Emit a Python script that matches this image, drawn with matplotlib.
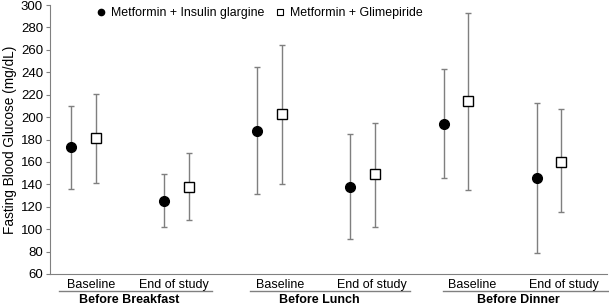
import matplotlib
matplotlib.use("Agg")
import matplotlib.pyplot as plt
from matplotlib.lines import Line2D

plt.rcParams["font.family"] = ["Liberation Sans", "DejaVu Sans"]

categorias = ["Baseline", "End of study"] * 3
grupos = ["Before Breakfast", "Before Lunch", "Before Dinner"]

insulina = [173, 125, 188, 138, 194, 146]
insulina_sup = [210, 149, 245, 185, 243, 213]
insulina_inf = [136, 102, 131, 91, 146, 79]

glimepirida = [181, 138, 203, 149, 214, 160]
glimepirida_sup = [221, 168, 264, 195, 293, 207]
glimepirida_inf = [141, 108, 140, 102, 135, 115]


def erros(media, sup, inf):
    return [[m - i for m, i in zip(media, inf)], [s - m for m, s in zip(media, sup)]]


fig = plt.figure(figsize=(6.09, 3.05), dpi=100)
ax = fig.add_axes([50 / 609, 31 / 305, 557 / 609, 269 / 305])

x = list(range(len(categorias)))
x1 = [v - 0.135 for v in x]
x2 = [v + 0.13 for v in x]

ax.errorbar(x1, insulina, yerr=erros(insulina, insulina_sup, insulina_inf),
            fmt="o", color="black", ms=7, ecolor="#7f7f7f", elinewidth=1,
            capsize=2.5, capthick=1, zorder=3)
ax.errorbar(x2, glimepirida, yerr=erros(glimepirida, glimepirida_sup, glimepirida_inf),
            fmt="s", mfc="white", mec="black", mew=1, ms=7, ecolor="#7f7f7f",
            elinewidth=1, capsize=2.5, capthick=1, zorder=3)

ax.set_xlim(-0.36, 5.62)
ax.set_ylim(60, 300)
ax.set_yticks(range(60, 301, 20))
ax.set_xticks([])
ax.tick_params(axis="y", labelsize=9.5, length=3, color="#808080", pad=2)
ax.set_ylabel("Fasting Blood Glucose (mg/dL)", fontsize=9.8, labelpad=3)

for lado in ["top", "right"]:
    ax.spines[lado].set_visible(False)
ax.spines["left"].set_color("#808080")
ax.spines["bottom"].set_color("#808080")

# rotulos das categorias e dos grupos
pos_cat = [0.08, 0.97, 2.11, 3.10, 4.17, 5.16]
for p, c in zip(pos_cat, categorias):
    ax.text(p, -0.04, c, transform=ax.get_xaxis_transform(), ha="center",
            va="center", fontsize=9)

linhas = [(-0.264, 1.377), (1.787, 3.506), (3.86, 5.65)]
pos_grupo = [0.485, 2.53, 4.67]
for (a, b), p, g in zip(linhas, pos_grupo, grupos):
    ax.plot([a, b], [-0.062, -0.062], transform=ax.get_xaxis_transform(),
            color="#808080", lw=1, clip_on=False)
    ax.text(p, -0.095, g, transform=ax.get_xaxis_transform(), ha="center",
            va="center", fontsize=9, fontweight="bold")

alcas = [
    Line2D([], [], ls="none", marker="o", color="black", ms=4.5),
    Line2D([], [], ls="none", marker="s", mfc="white", mec="black", mew=0.8, ms=4),
]
ax.legend(alcas, ["Metformin + Insulin glargine", "Metformin + Glimepiride"],
          loc="upper left", bbox_to_anchor=(0.07, 1.025), ncol=2, frameon=False,
          fontsize=8.9, handlelength=0.6, handletextpad=0.5, columnspacing=0.95,
          borderpad=0.2)

fig.savefig("out.png", dpi=100)
